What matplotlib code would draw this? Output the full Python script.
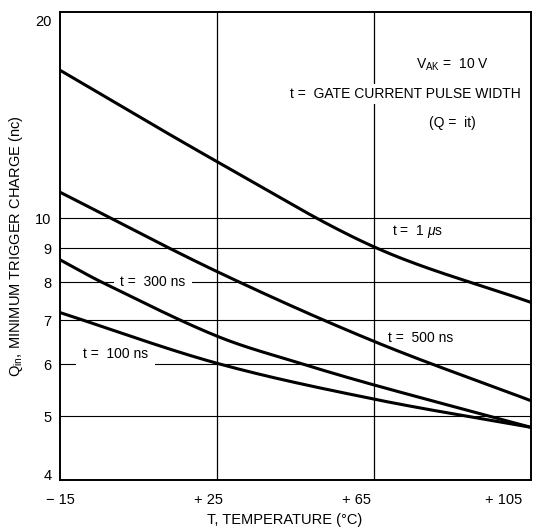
import matplotlib
matplotlib.use("Agg")
import numpy as np
import matplotlib.pyplot as plt
import matplotlib.transforms as mtransforms
from matplotlib.ticker import FixedLocator, NullLocator

plt.rcParams['font.family'] = ['Liberation Sans', 'DejaVu Sans']
plt.rcParams['mathtext.fontset'] = 'custom'
plt.rcParams['mathtext.rm'] = 'Liberation Sans'
plt.rcParams['mathtext.it'] = 'Liberation Sans:italic'

# Courbes (T en degC, Q en nC)
t_1us = [-15, 25, 65, 105]
q_1us = [16.8, 12.2, 9.05, 7.45]

t_500ns = [-15, 25, 65, 105]
q_500ns = [10.96, 8.3, 6.5, 5.28]

t_300ns = [-15, -4.4, 25, 47, 65, 105]
q_300ns = [8.65, 8.0, 6.62, 6.0, 5.58, 4.81]

t_100ns = [-15, 25, 65, 105]
q_100ns = [7.19, 6.02, 5.31, 4.81]

y_ticks = [4, 5, 6, 7, 8, 9, 10, 20]
y_grid = [5, 6, 7, 8, 9, 10]
x_ticks = [-15, 25, 65, 105]
x_labels = ["\u2212 15", "+ 25", "+ 65", "+ 105"]
x_label_shift = [0, -8, -18, -27]   # decalage des etiquettes (px), comme sur l'original
x_grid = [25, 65]


def smooth(xs, ys, n=60):
    # Hermite cubique en echelle log pour un trace lisse entre les points lus
    xs = np.asarray(xs, float)
    ys = np.log10(np.asarray(ys, float))
    out_x, out_y = [], []
    for i in range(len(xs) - 1):
        x0, x1 = xs[i], xs[i + 1]
        y0, y1 = ys[i], ys[i + 1]
        a = max(i - 1, 0)
        m0 = (ys[i + 1] - ys[a]) / (xs[i + 1] - xs[a])
        j = min(i + 2, len(xs) - 1)
        m1 = (ys[j] - ys[i]) / (xs[j] - xs[i])
        h = x1 - x0
        s = np.linspace(0, 1, n, endpoint=False)
        h00 = 2 * s**3 - 3 * s**2 + 1
        h10 = s**3 - 2 * s**2 + s
        h01 = -2 * s**3 + 3 * s**2
        h11 = s**3 - s**2
        out_x.extend(x0 + s * h)
        out_y.extend(h00 * y0 + h10 * h * m0 + h01 * y1 + h11 * h * m1)
    out_x.append(xs[-1])
    out_y.append(ys[-1])
    return out_x, 10 ** np.asarray(out_y)


fig = plt.figure(figsize=(5.43, 5.31), dpi=100)
ax = fig.add_axes([60 / 543, 1 - 480 / 531, 471 / 543, 468 / 531])
ax.set_yscale("log")
ax.set_xlim(-15, 105)
ax.set_ylim(4, 20.6)

for g in y_grid:
    ax.axhline(g, color="black", lw=0.8, zorder=1)
for g in x_grid:
    ax.axvline(g, color="black", lw=0.9, zorder=1)

for xs, ys in [(t_1us, q_1us), (t_500ns, q_500ns), (t_300ns, q_300ns), (t_100ns, q_100ns)]:
    sx, sy = smooth(xs, ys)
    ax.plot(sx, sy, color="black", lw=2.2, zorder=3, solid_capstyle="butt")

ax.yaxis.set_major_locator(FixedLocator(y_ticks))
ax.yaxis.set_minor_locator(NullLocator())
ax.set_yticklabels([str(v) for v in y_ticks])
ax.set_xticks(x_ticks)
ax.set_xticklabels(x_labels)
ax.tick_params(length=0, labelsize=10.5)
ax.tick_params(axis="x", pad=9)
ax.tick_params(axis="y", pad=6)
for lab, dx in zip(ax.get_xticklabels(), x_label_shift):
    lab.set_transform(lab.get_transform() + mtransforms.ScaledTranslation(dx / 100, 0, fig.dpi_scale_trans))
ylabs = ax.get_yticklabels()
ylabs[0].set_transform(ylabs[0].get_transform() + mtransforms.ScaledTranslation(0, 6 / 100, fig.dpi_scale_trans))
for sp in ax.spines.values():
    sp.set_linewidth(1.4)

ax.set_xlabel("T, TEMPERATURE (\u00b0C)", fontsize=10.5)
ax.xaxis.set_label_coords(0.477, -0.07)
ax.set_ylabel("Q$_{\\rm in}$, MINIMUM TRIGGER CHARGE (nc)", fontsize=10.5)
ax.yaxis.set_label_coords(-0.075, 0.5)

fs = 10
ax.text(0.833, 0.887, "V$_{\\rm AK}$ =  10 V", transform=ax.transAxes, fontsize=fs, ha="center", va="center")
ax.text(0.7325, 0.825, "t =  GATE CURRENT PULSE WIDTH", transform=ax.transAxes, fontsize=fs,
        ha="center", va="center", zorder=2, bbox=dict(facecolor="white", edgecolor="none", pad=2))
ax.text(0.833, 0.763, "(Q =  it)", transform=ax.transAxes, fontsize=fs, ha="center", va="center")

ax.text(76.2, 9.54, "t =  1 $\\mu$s", fontsize=fs, ha="center", va="center", zorder=2)
ax.text(77, 6.58, "t =  500 ns", fontsize=fs, ha="center", va="center", zorder=2)
ax.text(8.6, 8.0, "t =  300 ns", fontsize=fs, ha="center", va="center", zorder=2,
        bbox=dict(facecolor="white", edgecolor="none", boxstyle="square,pad=0.45"))
ax.text(-0.9, 6.21, "t =  100 ns", fontsize=fs, ha="center", va="center", zorder=2,
        bbox=dict(facecolor="white", edgecolor="none", boxstyle="square,pad=0.5"))

plt.savefig("out.png", dpi=100)
